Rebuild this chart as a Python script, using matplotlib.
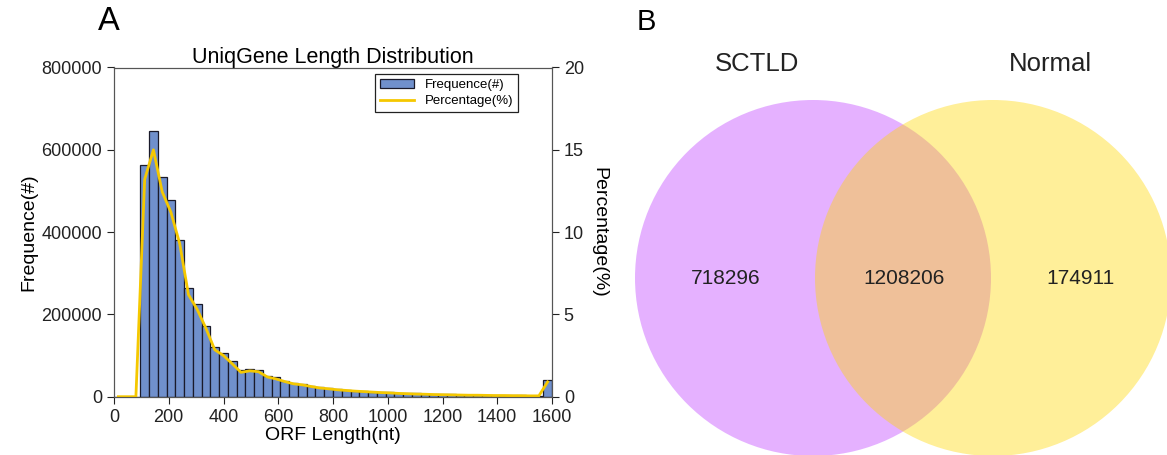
import numpy as np
import matplotlib
matplotlib.use('Agg')
import matplotlib.pyplot as plt
from matplotlib.patches import Circle

plt.rcParams['font.family'] = ['Liberation Sans', 'DejaVu Sans']

# 히스토그램 데이터 (32 nt 간격, 0~1600)
bin_width = 32
bin_left = np.arange(0, 1600, bin_width)
frequence = [0, 0, 0, 563000, 645000, 533000, 479000, 380000, 265000, 225000,
             171000, 121000, 105000, 86000, 65000, 67000, 66000, 51000, 47000, 39000,
             33000, 31000, 27000, 23000, 21000, 19000, 16000, 15000, 14000, 12000,
             11000, 10500, 9500, 8500, 8000, 7000, 6500, 6000, 5500, 5000,
             4500, 4200, 4000, 3700, 3400, 3200, 3000, 2800, 2600, 40000]
percentage = [0, 0, 0, 13.2, 15.0, 12.45, 11.2, 9.3, 6.2, 5.3,
              4.15, 2.85, 2.5, 2.0, 1.48, 1.57, 1.52, 1.2, 1.08, 0.92,
              0.78, 0.72, 0.62, 0.53, 0.48, 0.42, 0.38, 0.34, 0.31, 0.28,
              0.25, 0.23, 0.2, 0.18, 0.16, 0.15, 0.13, 0.12, 0.11, 0.1,
              0.09, 0.09, 0.08, 0.07, 0.07, 0.06, 0.06, 0.05, 0.05, 0.9]
xticks = [0, 200, 400, 600, 800, 1000, 1200, 1400, 1600]

# 벤 다이어그램 데이터
set_names = ['SCTLD', 'Normal']
venn_counts = [718296, 1208206, 174911]  # SCTLD only, 공통, Normal only

W, H = 1167, 455
fig = plt.figure(figsize=(W / 100, H / 100), dpi=100)

# ---- A: 길이 분포 ----
ax = fig.add_axes([114 / W, (H - 396.7) / H, 438 / W, 329.2 / H])
ax.bar(bin_left, frequence, width=bin_width, align='edge',
       color='#7090CC', edgecolor='#1a1a2a', linewidth=0.9, label='Frequence(#)')
ax.set_xlim(0, 1600)
ax.set_ylim(0, 800000)
ax.set_xticks(xticks)
ax.set_yticks([0, 200000, 400000, 600000, 800000])
ax.tick_params(direction='out', length=5, labelsize=13, colors='#222222')
for s in ['left', 'right', 'top']:
    ax.spines[s].set_color('#555555')
ax.spines['bottom'].set_color('#222222')

ax2 = ax.twinx()
ax2.plot(bin_left + bin_width / 2, percentage, color='#F5C800', linewidth=2,
         label='Percentage(%)')
ax2.set_ylim(0, 20)
ax2.set_yticks([0, 5, 10, 15, 20])
ax2.tick_params(direction='out', length=5, labelsize=13, colors='#222222')
for s in ['left', 'right', 'top', 'bottom']:
    ax2.spines[s].set_color('#555555')

ax.set_title('UniqGene Length Distribution', fontsize=15.5, pad=3)
ax.set_xlabel('ORF Length(nt)', fontsize=14, labelpad=1)
ax.set_ylabel('Frequence(#)', fontsize=14, labelpad=3)
ax2.set_ylabel('Percentage(%)', fontsize=14, rotation=270, labelpad=17)

h1, l1 = ax.get_legend_handles_labels()
h2, l2 = ax2.get_legend_handles_labels()
leg = ax2.legend(h1 + h2, l1 + l2, loc='upper right', fontsize=9.5,
                 bbox_to_anchor=(518 / W, (H - 74) / H), bbox_transform=fig.transFigure,
                 borderaxespad=0, fancybox=False, framealpha=1, edgecolor='#222222',
                 handlelength=2.6, borderpad=0.38, labelspacing=0.28)
leg.get_frame().set_linewidth(0.9)

fig.text(109 / W, 1 - 22 / H, 'A', fontsize=23.5, ha='center', va='center')

# ---- B: 벤 다이어그램 ----
bx = fig.add_axes([600 / W, 0, 567 / W, 1])
bx.set_xlim(600, 1167)
bx.set_ylim(455, 0)
bx.axis('off')
bx.add_patch(Circle((813, 278), 178, facecolor='#BF3EFF', alpha=0.4, edgecolor='none'))
bx.add_patch(Circle((993, 278), 178, facecolor='#FFD700', alpha=0.4, edgecolor='none'))
for x, n in zip([726, 904, 1080], venn_counts):
    bx.text(x, 278, str(n), fontsize=15, ha='center', va='center', color='#222222')
for x, name in zip([757, 1050], set_names):
    bx.text(x, 64, name, fontsize=18.5, ha='center', va='center', color='#222222')

fig.text(646 / W, 1 - 22 / H, 'B', fontsize=21, ha='center', va='center')

plt.savefig('out.png', dpi=100)
